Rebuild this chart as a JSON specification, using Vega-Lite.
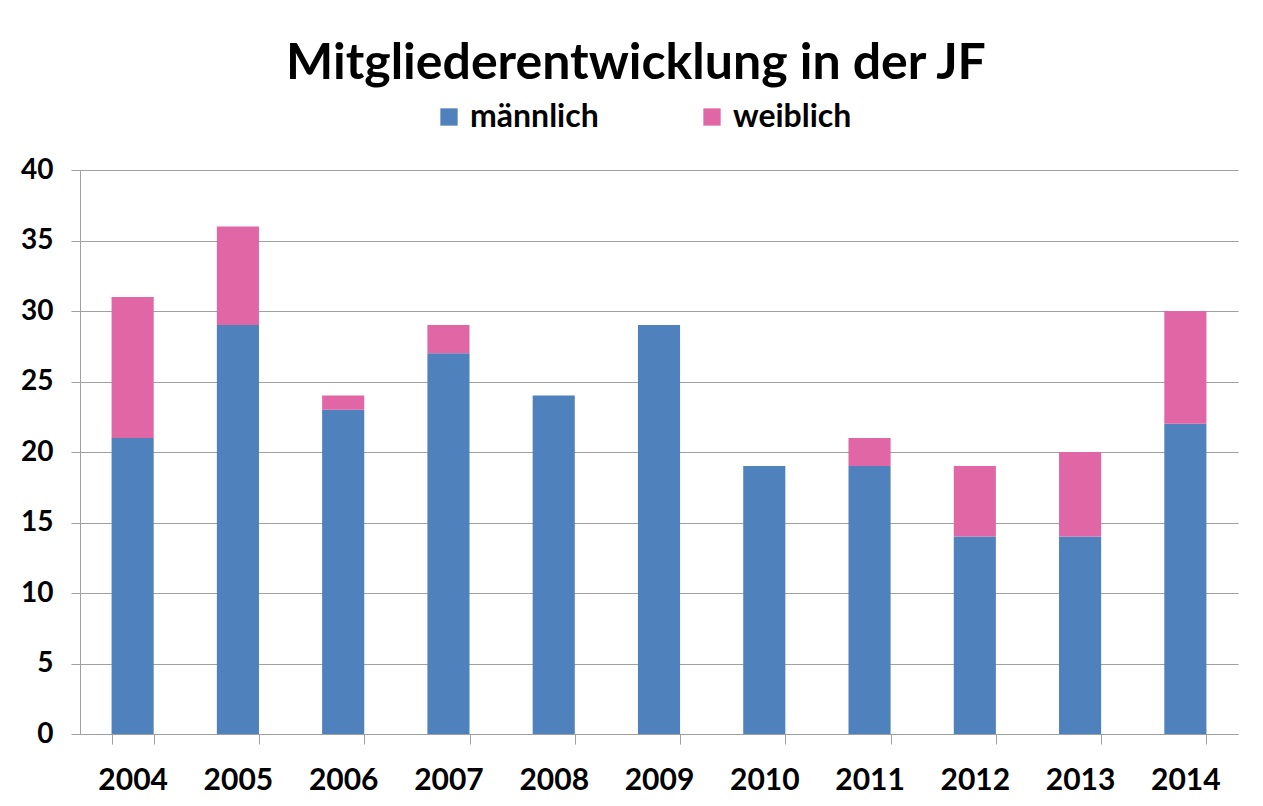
{
  "$schema": "https://vega.github.io/schema/vega-lite/v6.json",
  "width": 1263,
  "height": 806,
  "autosize": {"type": "fit", "contains": "padding"},
  "padding": {"left": 20, "top": 39, "right": 25, "bottom": 11},
  "background": "white",
  "title": {
    "text": "Mitgliederentwicklung in der JF",
    "font": "Lato",
    "fontSize": 50,
    "fontWeight": "bold",
    "color": "#000000",
    "anchor": "middle",
    "frame": "group",
    "dx": -23,
    "offset": 67
  },
  "data": {
    "values": [
      {"Jahr": "2004", "Geschlecht": "männlich", "Anzahl": 21},
      {"Jahr": "2004", "Geschlecht": "weiblich", "Anzahl": 10},
      {"Jahr": "2005", "Geschlecht": "männlich", "Anzahl": 29},
      {"Jahr": "2005", "Geschlecht": "weiblich", "Anzahl": 7},
      {"Jahr": "2006", "Geschlecht": "männlich", "Anzahl": 23},
      {"Jahr": "2006", "Geschlecht": "weiblich", "Anzahl": 1},
      {"Jahr": "2007", "Geschlecht": "männlich", "Anzahl": 27},
      {"Jahr": "2007", "Geschlecht": "weiblich", "Anzahl": 2},
      {"Jahr": "2008", "Geschlecht": "männlich", "Anzahl": 24},
      {"Jahr": "2008", "Geschlecht": "weiblich", "Anzahl": 0},
      {"Jahr": "2009", "Geschlecht": "männlich", "Anzahl": 29},
      {"Jahr": "2009", "Geschlecht": "weiblich", "Anzahl": 0},
      {"Jahr": "2010", "Geschlecht": "männlich", "Anzahl": 19},
      {"Jahr": "2010", "Geschlecht": "weiblich", "Anzahl": 0},
      {"Jahr": "2011", "Geschlecht": "männlich", "Anzahl": 19},
      {"Jahr": "2011", "Geschlecht": "weiblich", "Anzahl": 2},
      {"Jahr": "2012", "Geschlecht": "männlich", "Anzahl": 14},
      {"Jahr": "2012", "Geschlecht": "weiblich", "Anzahl": 5},
      {"Jahr": "2013", "Geschlecht": "männlich", "Anzahl": 14},
      {"Jahr": "2013", "Geschlecht": "weiblich", "Anzahl": 6},
      {"Jahr": "2014", "Geschlecht": "männlich", "Anzahl": 22},
      {"Jahr": "2014", "Geschlecht": "weiblich", "Anzahl": 8}
    ]
  },
  "mark": {"type": "bar"},
  "encoding": {
    "x": {
      "field": "Jahr",
      "type": "ordinal",
      "scale": {"paddingInner": 0.6, "paddingOuter": 0.3},
      "axis": {
        "title": null,
        "labelAngle": 0,
        "labelFont": "Lato",
        "labelFontSize": 30,
        "labelFontWeight": "bold",
        "labelColor": "#000000",
        "labelPadding": 21,
        "tickBand": "extent",
        "tickSize": 10,
        "tickColor": "#A0A0A0",
        "domainColor": "#A0A0A0",
        "grid": false
      }
    },
    "y": {
      "field": "Anzahl",
      "type": "quantitative",
      "stack": "zero",
      "scale": {"domain": [0, 40], "nice": false},
      "axis": {
        "title": null,
        "values": [0, 5, 10, 15, 20, 25, 30, 35, 40],
        "labelFont": "Lato",
        "labelFontSize": 28,
        "labelFontWeight": "bold",
        "labelColor": "#000000",
        "labelPadding": 18,
        "tickSize": 9,
        "tickColor": "#A0A0A0",
        "domainColor": "#A0A0A0",
        "gridColor": "#A0A0A0",
        "gridWidth": 1
      }
    },
    "color": {
      "field": "Geschlecht",
      "type": "nominal",
      "scale": {"domain": ["männlich", "weiblich"], "range": ["#4F81BD", "#E066A5"]},
      "legend": {
        "title": null,
        "orient": "none",
        "direction": "horizontal",
        "legendX": 353,
        "legendY": -69,
        "symbolType": "square",
        "symbolSize": 300,
        "symbolStrokeWidth": 0,
        "labelFont": "Lato",
        "labelFontSize": 32,
        "labelFontWeight": "bold",
        "labelColor": "#000000",
        "labelOffset": 5,
        "columnPadding": 97
      }
    },
    "order": {"field": "Geschlecht", "sort": "ascending"}
  },
  "config": {
    "view": {"stroke": null}
  }
}
